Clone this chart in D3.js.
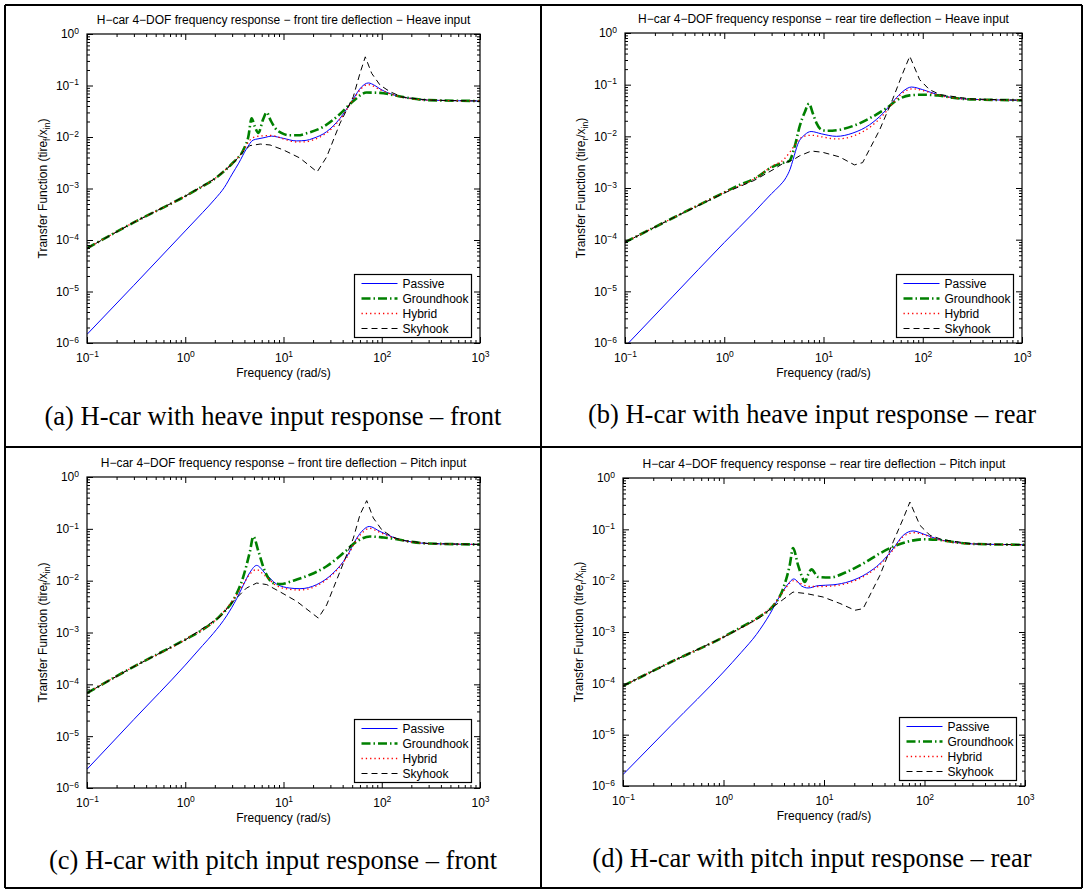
<!DOCTYPE html>
<html>
<head>
<meta charset="utf-8">
<script src="https://cdn.jsdelivr.net/npm/d3@7"></script>
<style>
  body { margin: 0; background: #fff; }
  svg { display: block; }
</style>
</head>
<body>
<svg id="fig" width="1085" height="890"></svg>
<script>
// ---- data: [frequency rad/s, |H|] ----
var aPassive = [[0.1,1.47e-6],[0.3,1.32e-5],[1,1.5e-4],[1.5,3.4e-4],[2,6.2e-4],[2.5,1.05e-3],[3,1.9e-3],[3.5,3.1e-3],[4.2,5.9e-3],[4.9,8.7e-3],[5.5,9.2e-3],[6.5,9.8e-3],[7.5,1.04e-2],[10,9.4e-3],[13.5,8.4e-3],[17,8.6e-3],[20,9.4e-3],[27.5,1.27e-2],[37.6,2.3e-2],[51,5.4e-2],[62,9.3e-2],[73,0.112],[85,0.1],[96,0.086],[142,0.063],[200,0.056],[300,0.052],[1000,0.05]];
var aGround = [[0.1,6.9e-5],[0.3,2.2e-4],[1,7.1e-4],[1.5,1.1e-3],[2,1.55e-3],[2.5,2.2e-3],[3.08,3.2e-3],[3.9,5.6e-3],[4.38,1.0e-2],[4.74,2.3e-2],[5.1,1.6e-2],[5.55,1.2e-2],[6.2,2.2e-2],[6.75,3.0e-2],[7.4,2.1e-2],[8.2,1.5e-2],[9.5,1.2e-2],[11.6,1.08e-2],[14,1.08e-2],[17.2,1.18e-2],[25.4,1.58e-2],[37.6,2.8e-2],[51.4,5.0e-2],[70,0.073],[96,0.072],[142,0.063],[200,0.056],[300,0.052],[1000,0.05]];
var aHybrid = [[0.1,6.9e-5],[0.3,2.2e-4],[1,7.1e-4],[1.5,1.1e-3],[2,1.55e-3],[2.5,2.2e-3],[3.08,3.2e-3],[3.9,5.4e-3],[4.5,8.5e-3],[5.1,1.0e-2],[6,1.05e-2],[7.5,1.07e-2],[10,9.2e-3],[13.6,8.0e-3],[17,8.1e-3],[20,8.8e-3],[27.5,1.2e-2],[37.6,2.2e-2],[51,5.2e-2],[62,8.8e-2],[73,0.104],[96,0.083],[142,0.063],[300,0.052],[1000,0.05]];
var aSky = [[0.1,6.9e-5],[0.3,2.2e-4],[1,7.1e-4],[2,1.55e-3],[3.08,3.1e-3],[3.9,5.2e-3],[4.55,6.8e-3],[5.8,7.3e-3],[7.3,7.0e-3],[10,5.6e-3],[14.7,3.9e-3],[22,2.1e-3],[27.5,4.1e-3],[37.6,1.85e-2],[51.4,6.1e-2],[60,0.172],[68,0.36],[79,0.172],[96,0.102],[121,0.076],[160,0.06],[300,0.052],[1000,0.05]];

var bPassive = [[0.1,8.5e-7],[0.3,7.8e-6],[1,8.8e-5],[2,3.4e-4],[3,7.8e-4],[3.6,1.1e-3],[4.2,1.6e-3],[4.6,2.3e-3],[4.95,3.6e-3],[5.5,7.0e-3],[6.5,1.08e-2],[7.5,1.24e-2],[9.5,1.12e-2],[13.5,1.0e-2],[19.8,1.16e-2],[29.2,1.68e-2],[39.8,2.8e-2],[52,5.1e-2],[63,0.074],[77,0.09],[100,0.08],[142,0.064],[200,0.056],[300,0.052],[1000,0.05]];
var bGround = [[0.1,8.9e-5],[0.3,2.6e-4],[1,8.2e-4],[1.43,1.15e-3],[2,1.5e-3],[3.1,2.6e-3],[4,3.1e-3],[4.5,3.3e-3],[5.13,6.4e-3],[5.75,1.56e-2],[6.5,3.0e-2],[7.15,4.3e-2],[7.8,2.8e-2],[8.5,1.8e-2],[9.5,1.35e-2],[10.7,1.28e-2],[14.5,1.34e-2],[21.4,1.68e-2],[31.6,2.43e-2],[43,3.5e-2],[54,4.9e-2],[73.8,0.062],[100,0.064],[142,0.062],[200,0.056],[300,0.052],[1000,0.05]];
var bHybrid = [[0.1,8.9e-5],[0.3,2.6e-4],[1,8.2e-4],[2,1.5e-3],[3.1,2.7e-3],[4,3.6e-3],[4.6,5.0e-3],[5.2,7.0e-3],[6,9.5e-3],[7.5,1.05e-2],[9.5,9.8e-3],[13.5,8.9e-3],[20,1.02e-2],[30,1.55e-2],[40,2.6e-2],[52,4.8e-2],[63,0.07],[80,0.083],[100,0.077],[142,0.063],[300,0.052],[1000,0.05]];
var bSky = [[0.1,8.9e-5],[0.3,2.6e-4],[1,8.0e-4],[2,1.4e-3],[3.1,2.26e-3],[3.92,3.0e-3],[4.94,3.5e-3],[5.75,4.2e-3],[7.55,5.2e-3],[9.85,4.9e-3],[14.5,4.0e-3],[20.5,2.8e-3],[24.8,3.1e-3],[36.9,1.35e-2],[49.5,5.1e-2],[63,0.168],[74,0.355],[93,0.125],[117,0.08],[150,0.064],[300,0.053],[1000,0.05]];

var cPassive = [[0.1,2.3e-6],[0.3,2.1e-5],[1,2.35e-4],[1.5,5.6e-4],[1.93,9.6e-4],[2.64,2.1e-3],[3.34,4.5e-3],[3.9,8.2e-3],[4.56,1.45e-2],[5.33,1.97e-2],[6.48,1.4e-2],[8.5,8.6e-3],[11.6,7.2e-3],[14.7,7.0e-3],[21.8,8.4e-3],[32,1.4e-2],[44,2.9e-2],[55.6,6.6e-2],[65,9.6e-2],[74.6,0.111],[96,0.089],[142,0.065],[200,0.056],[300,0.052],[1000,0.05]];
var cGround = [[0.1,6.8e-5],[0.3,2.2e-4],[1,7.3e-4],[1.41,1.05e-3],[2.26,2.1e-3],[3.08,4.2e-3],[3.9,1.2e-2],[4.56,3.7e-2],[4.93,7.1e-2],[5.55,3.7e-2],[6.48,1.5e-2],[7.87,9.0e-3],[9.2,8.6e-3],[12.6,1.0e-2],[18.6,1.3e-2],[27.5,1.9e-2],[40.7,3.4e-2],[55.6,5.7e-2],[75.9,0.071],[104,0.068],[142,0.063],[200,0.056],[300,0.052],[1000,0.05]];
var cHybrid = [[0.1,6.8e-5],[0.3,2.2e-4],[1,7.3e-4],[2.26,2.1e-3],[3.08,4.3e-3],[3.9,8.5e-3],[4.56,1.35e-2],[5.3,1.63e-2],[6.48,1.25e-2],[8.5,8.0e-3],[11.6,6.8e-3],[14.7,6.6e-3],[21.8,8.0e-3],[32,1.35e-2],[44,2.8e-2],[55.6,6.2e-2],[65,8.8e-2],[74.6,0.102],[96,0.085],[142,0.064],[300,0.052],[1000,0.05]];
var cSky = [[0.1,6.8e-5],[0.3,2.2e-4],[1,7.2e-4],[2.26,2.0e-3],[3.08,4.0e-3],[4.2,7.2e-3],[5.33,9.0e-3],[6.75,8.4e-3],[9.2,6.1e-3],[13.6,4.0e-3],[22.6,1.9e-3],[27.5,3.4e-3],[37.6,1.5e-2],[51.4,6.6e-2],[60,0.187],[70.3,0.35],[82,0.162],[100,0.096],[126,0.071],[160,0.06],[300,0.052],[1000,0.05]];

var dPassive = [[0.1,1.67e-6],[0.3,1.5e-5],[1,1.66e-4],[1.5,4.0e-4],[2.13,9.0e-4],[2.88,2.2e-3],[3.63,5.0e-3],[4.39,8.6e-3],[5.0,1.08e-2],[5.5,9.5e-3],[5.97,7.9e-3],[6.95,7.2e-3],[8.74,8.0e-3],[12.3,8.3e-3],[18.1,9.7e-3],[26.5,1.37e-2],[36,2.15e-2],[48.8,4.2e-2],[61.4,0.0765],[77,0.093],[101,0.079],[137,0.064],[200,0.056],[300,0.052],[1000,0.05]];
var dGround = [[0.1,8.9e-5],[0.3,2.6e-4],[1,8.0e-4],[1.45,1.2e-3],[2.29,2.0e-3],[3.11,3.2e-3],[3.92,7.0e-3],[4.56,2.0e-2],[4.92,4.3e-2],[5.52,2.0e-2],[5.97,1.27e-2],[6.44,9.4e-3],[7.0,1.35e-2],[7.5,1.66e-2],[8.74,1.18e-2],[11.4,1.15e-2],[16.8,1.48e-2],[24.5,2.15e-2],[36,3.4e-2],[52.7,4.9e-2],[71.6,0.059],[97,0.064],[142,0.062],[200,0.056],[300,0.052],[1000,0.05]];
var dHybrid = [[0.1,8.9e-5],[0.3,2.6e-4],[1,8.0e-4],[2.29,2.0e-3],[3.11,3.3e-3],[3.92,6.0e-3],[4.56,9.0e-3],[5.0,1.0e-2],[5.6,9.2e-3],[6.3,8.2e-3],[7.5,7.7e-3],[9.5,7.7e-3],[12.3,7.9e-3],[18.1,9.2e-3],[26.5,1.3e-2],[36,2.05e-2],[48.8,4.0e-2],[61.4,0.072],[78,0.086],[101,0.077],[137,0.063],[300,0.052],[1000,0.05]];
var dSky = [[0.1,8.9e-5],[0.3,2.6e-4],[1,7.9e-4],[2.29,1.9e-3],[3.11,3.07e-3],[3.92,4.3e-3],[4.92,6.0e-3],[6.7,5.6e-3],[9.8,4.8e-3],[14.4,3.6e-3],[20.3,2.65e-3],[24.5,2.85e-3],[36,1.27e-2],[48.8,5.7e-2],[61.4,0.162],[71.6,0.34],[90,0.12],[113,0.077],[150,0.063],[300,0.052],[1000,0.05]];

var seriesNames = ["Passive", "Groundhook", "Hybrid", "Skyhook"];
var xTicks = [0.1, 1, 10, 100, 1000];
var yTicks = [1e-6, 1e-5, 1e-4, 1e-3, 1e-2, 1e-1, 1];

var titles = [
  "H\u2212car 4\u2212DOF frequency response \u2212 front tire deflection \u2212 Heave input",
  "H\u2212car 4\u2212DOF frequency response \u2212 rear tire deflection \u2212 Heave input",
  "H\u2212car 4\u2212DOF frequency response \u2212 front tire deflection \u2212 Pitch input",
  "H\u2212car 4\u2212DOF frequency response \u2212 rear tire deflection \u2212 Pitch input"
];
var captions = [
  "(a) H-car with heave input response \u2013 front",
  "(b) H-car with heave input response \u2013 rear",
  "(c) H-car with pitch input response \u2013 front",
  "(d) H-car with pitch input response \u2013 rear"
];
var tireSub = ["f", "r", "f", "r"];

// ---- styles ----
var styles = [
  {color: "#0000ff", width: 1, dash: null, curve: d3.curveMonotoneX},
  {color: "#008000", width: 2.6, dash: "9,3,1.5,3", curve: d3.curveMonotoneX},
  {color: "#ff0000", width: 1.3, dash: "1.3,3", curve: d3.curveMonotoneX},
  {color: "#000000", width: 1, dash: "6,4", curve: d3.curveLinear}
];

var layout = [
  {left: 87,  top: 34,  right: 480,  bottom: 343, capX: 273, capY: 425, data: [aPassive, aGround, aHybrid, aSky]},
  {left: 625, top: 33,  right: 1022, bottom: 343, capX: 812, capY: 423, data: [bPassive, bGround, bHybrid, bSky]},
  {left: 87,  top: 477, right: 480,  bottom: 788, capX: 273, capY: 869, data: [cPassive, cGround, cHybrid, cSky]},
  {left: 623, top: 478, right: 1025, bottom: 786, capX: 812, capY: 867, data: [dPassive, dGround, dHybrid, dSky]}
];

var sans = "'Liberation Sans', Arial, Helvetica, sans-serif";
var serif = "'Liberation Serif', 'Times New Roman', serif";
var fs = "12px";

var svg = d3.select("#fig");
svg.append("rect").attr("width", 1085).attr("height", 890).attr("fill", "#fff");

// minor tick positions
function minors(lo, hi) {
  var out = [];
  for (var e = lo; e < hi; e++)
    for (var m = 2; m <= 9; m++) out.push(m * Math.pow(10, e));
  return out;
}
var xMinor = minors(-1, 3);
var yMinor = minors(-6, 0);

function expLabel(sel) {
  sel.selectAll(".tick text").each(function(d) {
    var t = d3.select(this);
    var e = Math.round(Math.log10(d));
    t.text(null);
    t.append("tspan").text("10");
    t.append("tspan").attr("dy", "-0.55em").attr("font-size", "8.5px")
      .text(e < 0 ? "\u2212" + (-e) : e);
  });
}

layout.forEach(function(p, i) {
  var w = p.right - p.left, h = p.bottom - p.top;
  var g = svg.append("g").attr("transform", "translate(" + p.left + "," + p.top + ")");

  var x = d3.scaleLog().domain([0.1, 1000]).range([0, w]);
  var y = d3.scaleLog().domain([1e-6, 1]).range([h, 0]);

  g.append("clipPath").attr("id", "clip" + i)
    .append("rect").attr("width", w).attr("height", h);

  // curves
  var line = d3.line().x(d => x(d[0])).y(d => y(d[1]));
  p.data.forEach(function(s, k) {
    var st = styles[k];
    g.append("path")
      .datum(s)
      .attr("clip-path", "url(#clip" + i + ")")
      .attr("fill", "none")
      .attr("stroke", st.color)
      .attr("stroke-width", st.width)
      .attr("stroke-dasharray", st.dash)
      .attr("d", line.curve(st.curve));
  });

  // axes, ticks pointing inward
  var axes = [
    {ax: d3.axisBottom(x).tickValues(xTicks).tickSize(-6).tickPadding(10.5), tr: "translate(0," + h + ")", lab: true},
    {ax: d3.axisTop(x).tickValues(xTicks).tickSize(-6).tickFormat(""), tr: null},
    {ax: d3.axisLeft(y).tickValues(yTicks).tickSize(-6).tickPadding(8), tr: null, lab: true},
    {ax: d3.axisRight(y).tickValues(yTicks).tickSize(-6).tickFormat(""), tr: "translate(" + w + ",0)"},
    {ax: d3.axisBottom(x).tickValues(xMinor).tickSize(-3).tickFormat(""), tr: "translate(0," + h + ")"},
    {ax: d3.axisTop(x).tickValues(xMinor).tickSize(-3).tickFormat(""), tr: null},
    {ax: d3.axisLeft(y).tickValues(yMinor).tickSize(-3).tickFormat(""), tr: null},
    {ax: d3.axisRight(y).tickValues(yMinor).tickSize(-3).tickFormat(""), tr: "translate(" + w + ",0)"}
  ];
  axes.forEach(function(a) {
    var ag = g.append("g").attr("transform", a.tr).call(a.ax);
    ag.select(".domain").remove();
    ag.selectAll("line").attr("stroke", "#000");
    ag.selectAll("text").attr("fill", "#000")
      .attr("font-family", sans).attr("font-size", fs);
    if (a.lab) expLabel(ag);
  });

  g.append("rect").attr("width", w).attr("height", h)
    .attr("fill", "none").attr("stroke", "#000").attr("stroke-width", 1.2);

  // title
  g.append("text")
    .attr("x", w / 2).attr("y", -10)
    .attr("text-anchor", "middle")
    .attr("font-family", sans).attr("font-size", fs)
    .text(titles[i]);

  // x label
  g.append("text")
    .attr("x", w / 2).attr("y", h + 34)
    .attr("text-anchor", "middle")
    .attr("font-family", sans).attr("font-size", fs)
    .text("Frequency (rad/s)");

  // y label with subscripts
  var yl = g.append("text")
    .attr("transform", "translate(-40," + (h / 2) + ") rotate(-90)")
    .attr("text-anchor", "middle")
    .attr("font-family", sans).attr("font-size", fs);
  yl.append("tspan").text("Transfer Function (tire");
  yl.append("tspan").attr("font-size", "8.5px").attr("dy", 3).text(tireSub[i]);
  yl.append("tspan").attr("dy", -3).text("/x");
  yl.append("tspan").attr("font-size", "8.5px").attr("dy", 3).text("in");
  yl.append("tspan").attr("dy", -3).text(")");

  // legend
  var lg = g.append("g").attr("transform", "translate(" + (w - 125.5) + "," + (h - 68.5) + ")");
  lg.append("rect").attr("width", 117).attr("height", 63)
    .attr("fill", "#fff").attr("stroke", "#000").attr("stroke-width", 1.2);
  seriesNames.forEach(function(name, k) {
    var st = styles[k];
    var yy = 9 + k * 15;
    lg.append("line")
      .attr("x1", 7).attr("x2", 43).attr("y1", yy).attr("y2", yy)
      .attr("stroke", st.color).attr("stroke-width", st.width)
      .attr("stroke-dasharray", st.dash);
    lg.append("text")
      .attr("x", 48).attr("y", yy + 4)
      .attr("font-family", sans).attr("font-size", fs)
      .text(name);
  });

  // caption under the panel
  svg.append("text")
    .attr("x", p.capX).attr("y", p.capY)
    .attr("text-anchor", "middle")
    .attr("font-family", serif).attr("font-size", "26.5px")
    .text(captions[i]);
});

// table borders
var borders = [[5, 5, 1082, 5], [5, 888, 1082, 888], [5, 5, 5, 888], [1082, 5, 1082, 888],
               [541, 5, 541, 888], [5, 447, 1082, 447]];
svg.selectAll("line.border")
  .data(borders)
  .enter().append("line")
  .attr("class", "border")
  .attr("x1", d => d[0]).attr("y1", d => d[1])
  .attr("x2", d => d[2]).attr("y2", d => d[3])
  .attr("stroke", "#000").attr("stroke-width", 2);
</script>
</body>
</html>
